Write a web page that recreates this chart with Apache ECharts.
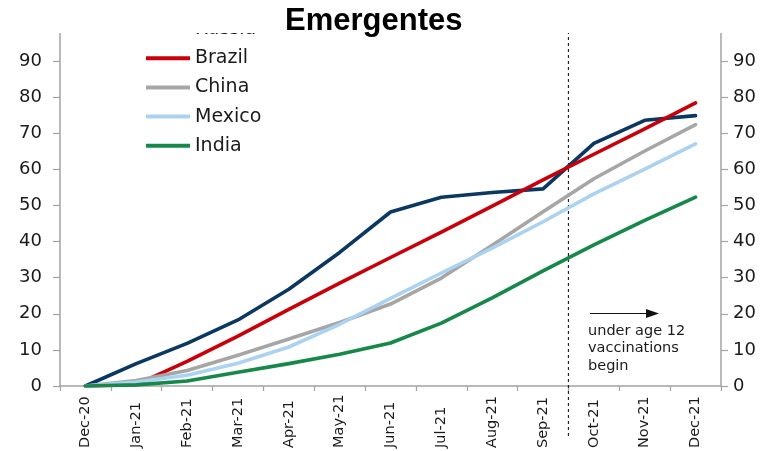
<!DOCTYPE html>
<html><head><meta charset="utf-8">
<script src="https://cdn.jsdelivr.net/npm/echarts@6/dist/echarts.min.js"></script>
<style>html,body{margin:0;padding:0;background:#fff}#c{width:764px;height:451px}</style>
</head><body><div id="c"></div>
<script>
const categories = ['Dec-20','Jan-21','Feb-21','Mar-21','Apr-21','May-21','Jun-21','Jul-21','Aug-21','Sep-21','Oct-21','Nov-21','Dec-21'];
const seriesNames = ['Russia','Brazil','China','Mexico','India'];
const russia = [0, 6.2, 11.8, 18.3, 26.8, 37.0, 48.2, 52.3, 53.6, 54.6, 67.2, 73.6, 74.9];
const brazil = [0, 0.4, 6.8, 13.8, 21.2, 28.5, 35.6, 42.6, 49.8, 57.1, 64.2, 71.2, 78.4];
const china  = [0, 1.5, 4.3, 8.5, 13.0, 17.6, 22.7, 29.9, 39.0, 48.3, 57.4, 65.1, 72.4];
const mexico = [0, 1.1, 3.0, 6.3, 10.8, 17.1, 24.3, 31.3, 38.2, 45.5, 53.2, 60.1, 67.1];
const india  = [0, 0.3, 1.4, 3.8, 6.2, 8.8, 11.9, 17.4, 24.4, 31.9, 39.1, 45.9, 52.3];
const seriesColors = ['#0b3862','#c8000a','#a6a6a6','#abd3f1','#16884a'];
const annotationText = 'under age 12\nvaccinations\nbegin';
const titleText = 'Emergentes';
const markerBetween = [9, 10]; // dashed line between Sep-21 and Oct-21

const chart = echarts.init(document.getElementById('c'), null, {renderer: 'canvas'});
const values = [russia, brazil, china, mexico, india];
const axisGrey = '#a3a3a3';
const txt = '#1a1a1a';
const yAxisBase = {
  type: 'value', min: 0, max: 100, interval: 10,
  axisLine: {show: true, lineStyle: {color: axisGrey, width: 1.5}},
  axisTick: {show: true, length: 7, lineStyle: {color: axisGrey, width: 1.2}},
  splitLine: {show: false},
  axisLabel: {color: txt, fontFamily: 'DejaVu Sans', fontSize: 18,
    formatter: v => (v >= 100 ? '' : String(v))}
};
chart.setOption({
  animation: false,
  backgroundColor: '#fff',
  title: {text: titleText, left: 285, top: 6, padding: 0, z: 200,
    textStyle: {fontFamily: 'Liberation Sans, Arial', fontWeight: 'bold', fontSize: 31, color: '#000', lineHeight: 31}},
  legend: {
    orient: 'vertical', left: 146, top: 18, padding: 0, itemGap: 7.2,
    icon: 'rect', itemWidth: 44, itemHeight: 4, selectedMode: false,
    textStyle: {fontFamily: 'DejaVu Sans', fontSize: 19, color: txt, lineHeight: 22},
    data: seriesNames
  },
  grid: {left: 60, right: 43, top: 25, bottom: 62, containLabel: false},
  xAxis: {
    type: 'category', data: categories, boundaryGap: true,
    axisLine: {lineStyle: {color: axisGrey, width: 1.5}},
    axisTick: {show: true, length: 5, lineStyle: {color: axisGrey, width: 1.2}},
    axisLabel: {interval: 0, rotate: 90, align: 'left', margin: 62, color: txt,
      fontFamily: 'DejaVu Sans', fontSize: 14.5}
  },
  yAxis: [
    Object.assign({}, yAxisBase, {position: 'left', axisLabel: Object.assign({}, yAxisBase.axisLabel, {margin: 18})}),
    Object.assign({}, yAxisBase, {position: 'right', axisLabel: Object.assign({}, yAxisBase.axisLabel, {margin: 12})})
  ],
  series: seriesNames.map((n, i) => ({
    name: n, type: 'line', data: values[i], symbol: 'none', showSymbol: false,
    color: seriesColors[i], z: 2 + i,
    lineStyle: {color: seriesColors[i], width: 3.6, cap: 'round', join: 'round'}
  }))
});

const xa = chart.convertToPixel({xAxisIndex: 0}, markerBetween[0]);
const xb = chart.convertToPixel({xAxisIndex: 0}, markerBetween[1]);
const xd = (xa + xb) / 2;
const yTop = chart.convertToPixel({yAxisIndex: 0}, 100);
const yZero = chart.convertToPixel({yAxisIndex: 0}, 0);

chart.setOption({
  graphic: {elements: [
    {type: 'line', silent: true, z: 1,
      shape: {x1: xd, y1: yTop, x2: xd, y2: yZero + 53},
      style: {stroke: '#222', lineWidth: 1.2, lineDash: [3, 3]}},
    {type: 'line', silent: true, z: 50,
      shape: {x1: 590, y1: 313.5, x2: 648, y2: 313.5},
      style: {stroke: '#111', lineWidth: 1.2}},
    {type: 'polygon', silent: true, z: 50,
      shape: {points: [[646, 309], [659, 313.5], [646, 318]]},
      style: {fill: '#111'}},
    {type: 'text', silent: true, z: 50, x: 588, y: 322,
      style: {text: annotationText, font: '14.5px "DejaVu Sans"', lineHeight: 17.5,
        fill: txt, verticalAlign: 'top', align: 'left'}},
    {type: 'rect', silent: true, z: 100,
      shape: {x: 0, y: 0, width: 764, height: 33},
      style: {fill: '#fff'}}
  ]}
});
</script>
</body></html>
